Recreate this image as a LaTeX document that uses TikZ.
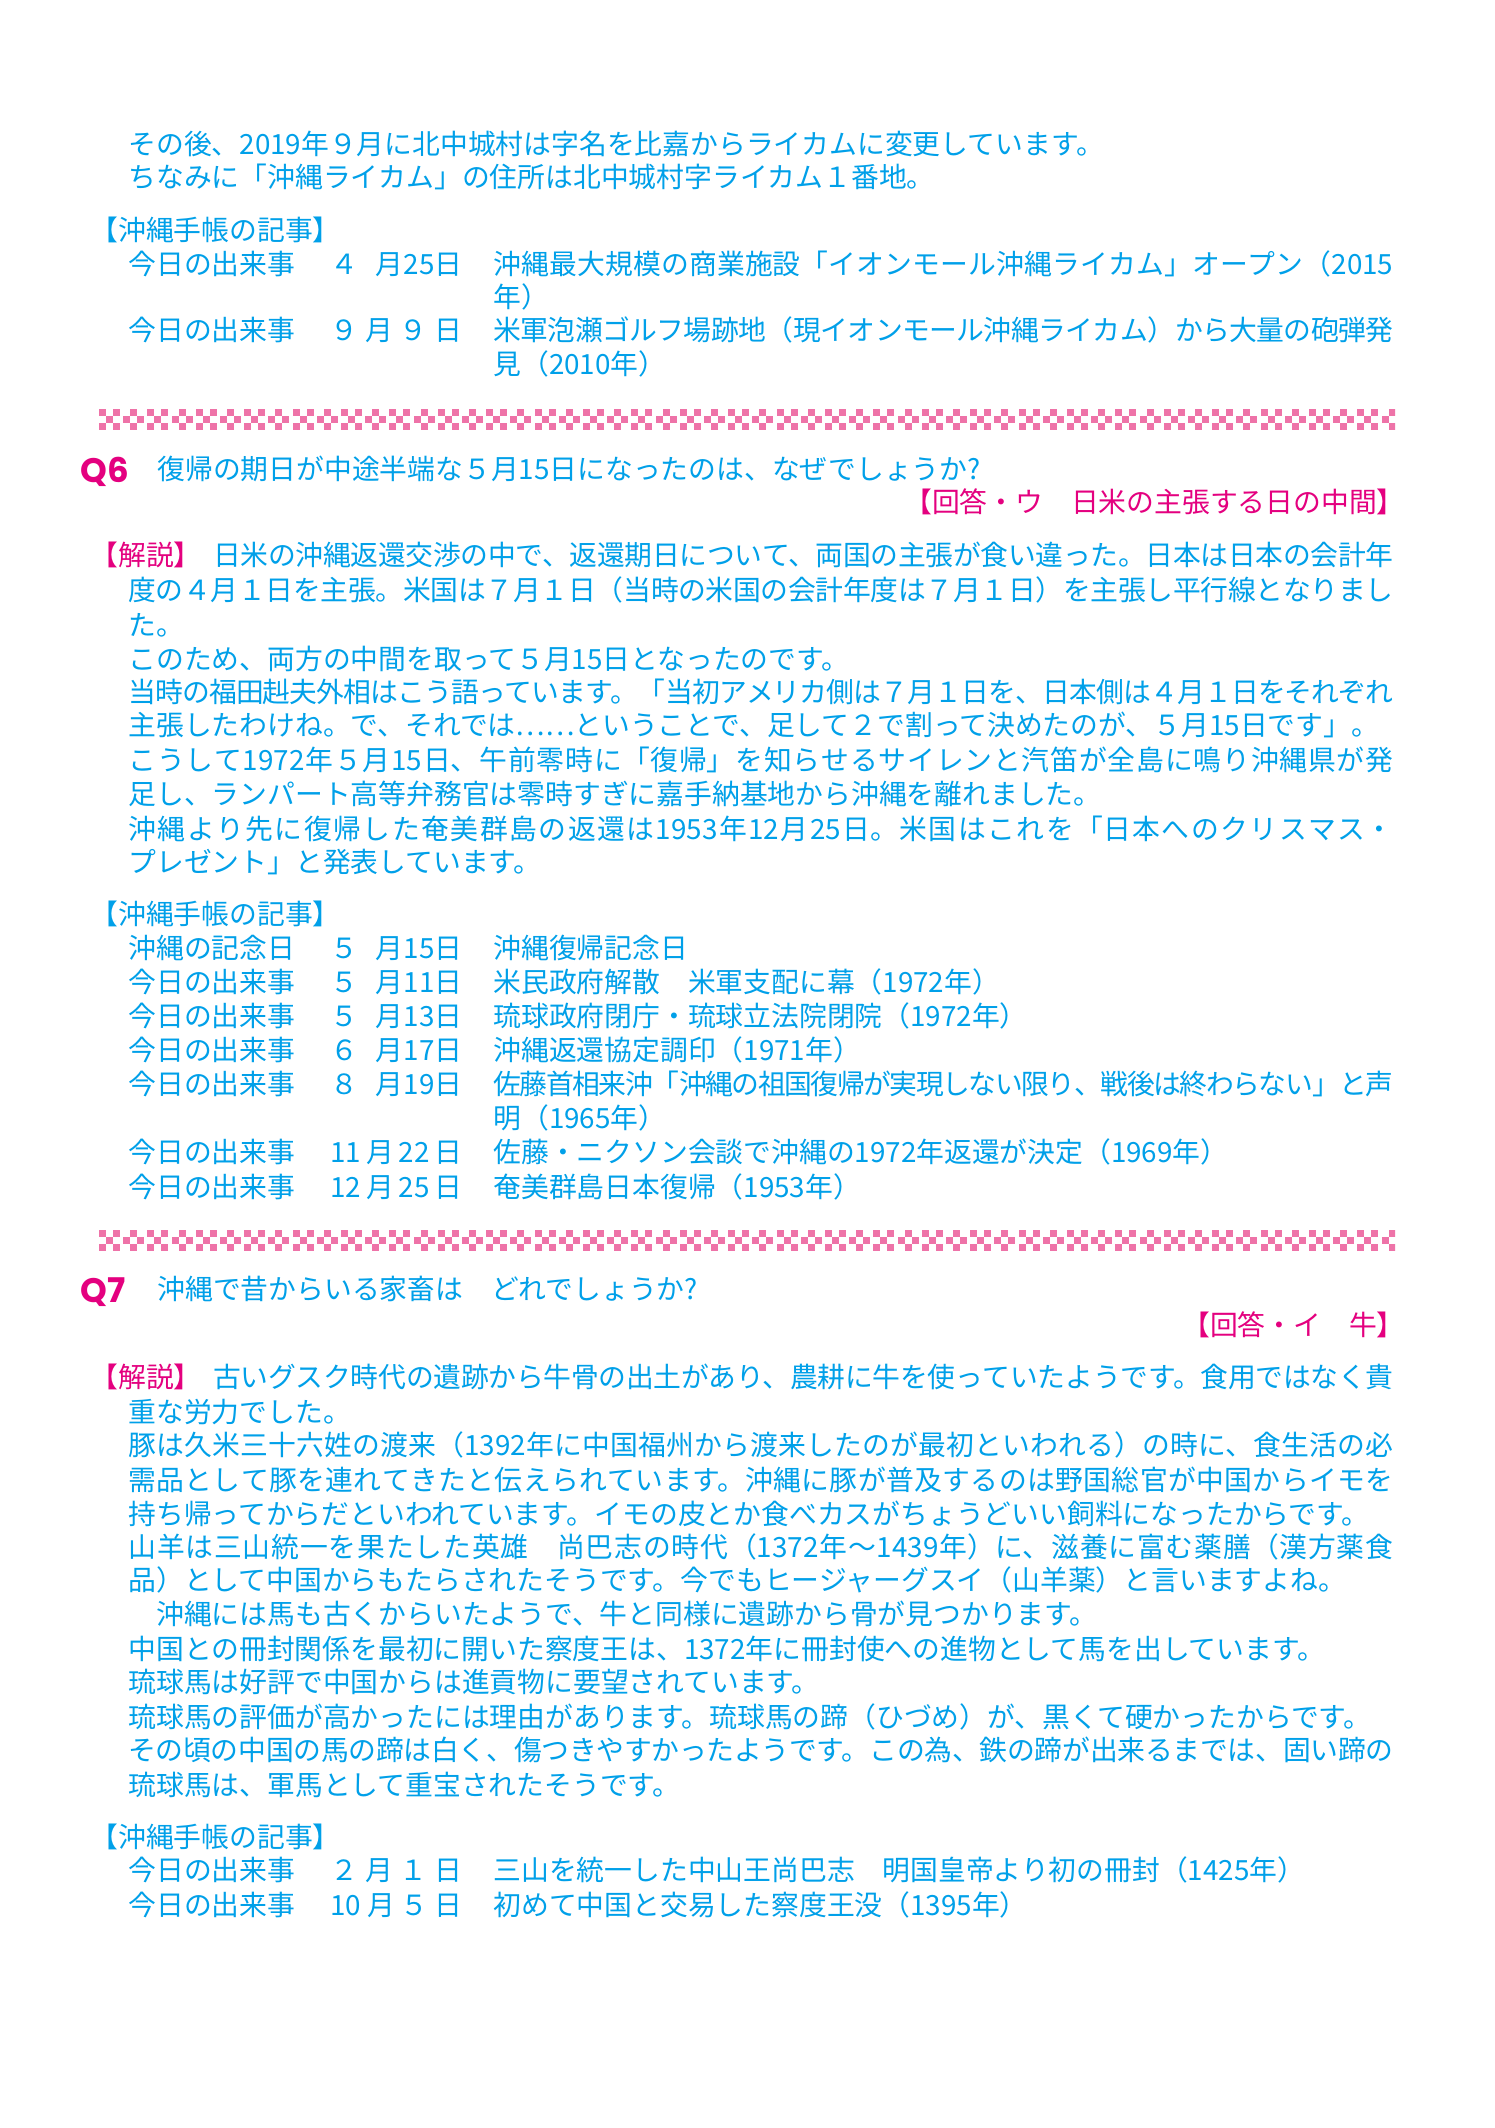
\documentclass[tikz,border=0pt]{standalone}
\usepackage{fontspec}
\setmainfont{Noto Sans CJK JP}
\newfontfamily\qfont{Poppins}
\XeTeXlinebreaklocale "ja"
\XeTeXlinebreakskip=0pt plus 2pt minus 1.2pt
\hbadness=10000
\definecolor{aoiro}{HTML}{00A0E9}
\definecolor{akane}{HTML}{E4007F}
\definecolor{momo}{HTML}{EE73A8}

\begin{document}
\begin{tikzpicture}
	[x=0.5pt, y=-0.5pt,
	txt/.style = {anchor=west, inner sep=0pt, text height=0.88em, text depth=0.12em, text=aoiro, font=\fontsize{13.9pt}{16pt}\selectfont},
	full/.style = {txt, text width=#1, align=justify, execute at begin node={\parfillskip=0pt\relax}, execute at end node={\parfillskip=0pt\relax}},
	aka/.style = {txt, text=akane},
	qno/.style = {anchor=west, inner sep=0pt, text=akane, font=\fontsize{17pt}{20pt}\qfont\bfseries},
	chk/.style = {fill=momo}]
	\fill[white] (0,0) rectangle (1494,2128);
	\useasboundingbox (0,0) rectangle (1494,2128);
	% ライカム
	\node[txt] (a1) at (128,147) {その後、2019年９月に北中城村は字名を比嘉からライカムに変更しています。};
	\node[txt] (a2) at (128,180) {ちなみに「沖縄ライカム」の住所は北中城村字ライカム１番地。};
	\node[txt] (a3) at (90,233) {【沖縄手帳の記事】};
	\node[txt] (a4) at (128,267) {今日の出来事};
	\node[txt] (a4d) at (330,267) {\makebox[66pt][s]{４\hfill 月25日}};
	\node[full=450pt] (a4t) at (493,267) {沖縄最大規模の商業施設「イオンモール沖縄ライカム」オープン（2015};
	\node[txt] (a5) at (493,300) {年）};
	\node[txt] (a6) at (128,333) {今日の出来事};
	\node[txt] (a6d) at (330,333) {\makebox[66pt][s]{９\hfill 月\hfill ９\hfill 日}};
	\node[full=450pt] (a6t) at (493,333) {米軍泡瀬ゴルフ場跡地（現イオンモール沖縄ライカム）から大量の砲弾発};
	\node[txt] (a7) at (493,367) {見（2010年）};
	% 市松の帯
	\begin{scope}
		\clip (95,400) rectangle (1395,1260);
		\foreach \sy in {409,1230}
			\foreach \i in {0,...,26} {
				\foreach \cx/\cy in {0/0,2/0,1/1,0/2,2/2}
					\fill[chk] ({99+48.4*\i+7*\cx},{\sy+7*\cy}) rectangle ++(7,7);
				\foreach \cx/\cy in {1/0,0/1,2/1,1/2}
					\fill[chk] ({123.2+48.4*\i+7*\cx},{\sy+7*\cy}) rectangle ++(7,7);
			}
	\end{scope}
	% Q6
	\node[qno] (q6) at (80,472) {Q6};
	\node[txt] (q6t) at (157,472) {復帰の期日が中途半端な５月15日になったのは、なぜでしょうか?};
	\node[aka, anchor=east] (q6a) at (1405,505) {【回答・ウ　日米の主張する日の中間】};
	\node[aka] (k6) at (90,558) {【解説】};
	\node[full=590pt] (k6a) at (213,558) {日米の沖縄返還交渉の中で、返還期日について、両国の主張が食い違った。日本は日本の会計年};
	\node[full=632.5pt] (k6b) at (128,593) {度の４月１日を主張。米国は７月１日（当時の米国の会計年度は７月１日）を主張し平行線となりまし};
	\node[txt] (k6c) at (128,628) {た。};
	\node[txt] (k6d) at (128,662) {このため、両方の中間を取って５月15日となったのです。};
	\node[full=632.5pt] (k6e) at (128,695) {当時の福田赳夫外相はこう語っています。「当初アメリカ側は７月１日を、日本側は４月１日をそれぞれ};
	\node[txt] (k6f) at (128,728) {主張したわけね。で、それでは……ということで、足して２で割って決めたのが、５月15日です」。};
	\node[full=632.5pt] (k6g) at (128,763) {こうして1972年５月15日、午前零時に「復帰」を知らせるサイレンと汽笛が全島に鳴り沖縄県が発};
	\node[txt] (k6h) at (128,797) {足し、ランパート高等弁務官は零時すぎに嘉手納基地から沖縄を離れました。};
	\node[full=632.5pt] (k6i) at (128,832) {沖縄より先に復帰した奄美群島の返還は1953年12月25日。米国はこれを「日本へのクリスマス・};
	\node[txt] (k6j) at (128,865) {プレゼント」と発表しています。};
	\node[txt] (b0) at (90,917) {【沖縄手帳の記事】};
	\node[txt] (b1) at (128,951) {沖縄の記念日};
	\node[txt] (b1d) at (330,951) {\makebox[66pt][s]{５\hfill 月15日}};
	\node[txt] (b1t) at (493,951) {沖縄復帰記念日};
	\node[txt] (b2) at (128,985) {今日の出来事};
	\node[txt] (b2d) at (330,985) {\makebox[66pt][s]{５\hfill 月11日}};
	\node[txt] (b2t) at (493,985) {米民政府解散　米軍支配に幕（1972年）};
	\node[txt] (b3) at (128,1019) {今日の出来事};
	\node[txt] (b3d) at (330,1019) {\makebox[66pt][s]{５\hfill 月13日}};
	\node[txt] (b3t) at (493,1019) {琉球政府閉庁・琉球立法院閉院（1972年）};
	\node[txt] (b4) at (128,1053) {今日の出来事};
	\node[txt] (b4d) at (330,1053) {\makebox[66pt][s]{６\hfill 月17日}};
	\node[txt] (b4t) at (493,1053) {沖縄返還協定調印（1971年）};
	\node[txt] (b5) at (128,1087) {今日の出来事};
	\node[txt] (b5d) at (330,1087) {\makebox[66pt][s]{８\hfill 月19日}};
	\node[full=450pt] (b5t) at (493,1087) {佐藤首相来沖「沖縄の祖国復帰が実現しない限り、戦後は終わらない」と声};
	\node[txt] (b6) at (493,1121) {明（1965年）};
	\node[txt] (b7) at (128,1155) {今日の出来事};
	\node[txt] (b7d) at (330,1155) {\makebox[66pt][s]{11\hfill 月\hfill 22\hfill 日}};
	\node[txt] (b7t) at (493,1155) {佐藤・ニクソン会談で沖縄の1972年返還が決定（1969年）};
	\node[txt] (b8) at (128,1190) {今日の出来事};
	\node[txt] (b8d) at (330,1190) {\makebox[66pt][s]{12\hfill 月\hfill 25\hfill 日}};
	\node[txt] (b8t) at (493,1190) {奄美群島日本復帰（1953年）};
	% Q7
	\node[qno] (q7) at (80,1292) {Q7};
	\node[txt] (q7t) at (157,1292) {沖縄で昔からいる家畜は　どれでしょうか?};
	\node[aka, anchor=east] (q7a) at (1405,1328) {【回答・イ　牛】};
	\node[aka] (k7) at (90,1380) {【解説】};
	\node[full=590pt] (k7a) at (213,1380) {古いグスク時代の遺跡から牛骨の出土があり、農耕に牛を使っていたようです。食用ではなく貴};
	\node[txt] (k7b) at (128,1415) {重な労力でした。};
	\node[full=632.5pt] (k7c) at (128,1448) {豚は久米三十六姓の渡来（1392年に中国福州から渡来したのが最初といわれる）の時に、食生活の必};
	\node[full=632.5pt] (k7d) at (128,1483) {需品として豚を連れてきたと伝えられています。沖縄に豚が普及するのは野国総官が中国からイモを};
	\node[txt] (k7e) at (128,1517) {持ち帰ってからだといわれています。イモの皮とか食べカスがちょうどいい飼料になったからです。};
	\node[full=632.5pt] (k7f) at (128,1550) {山羊は三山統一を果たした英雄　尚巴志の時代（1372年～1439年）に、滋養に富む薬膳（漢方薬食};
	\node[txt] (k7g) at (128,1583) {品）として中国からもたらされたそうです。今でもヒージャーグスイ（山羊薬）と言いますよね。};
	\node[txt] (k7h) at (128,1617) {　沖縄には馬も古くからいたようで、牛と同様に遺跡から骨が見つかります。};
	\node[txt] (k7i) at (128,1652) {中国との冊封関係を最初に開いた察度王は、1372年に冊封使への進物として馬を出しています。};
	\node[txt] (k7j) at (128,1685) {琉球馬は好評で中国からは進貢物に要望されています。};
	\node[txt] (k7k) at (128,1720) {琉球馬の評価が高かったには理由があります。琉球馬の蹄（ひづめ）が、黒くて硬かったからです。};
	\node[full=632.5pt] (k7l) at (128,1753) {その頃の中国の馬の蹄は白く、傷つきやすかったようです。この為、鉄の蹄が出来るまでは、固い蹄の};
	\node[txt] (k7m) at (128,1788) {琉球馬は、軍馬として重宝されたそうです。};
	\node[txt] (c0) at (90,1840) {【沖縄手帳の記事】};
	\node[txt] (c1) at (128,1873) {今日の出来事};
	\node[txt] (c1d) at (330,1873) {\makebox[66pt][s]{２\hfill 月\hfill １\hfill 日}};
	\node[txt] (c1t) at (493,1873) {三山を統一した中山王尚巴志　明国皇帝より初の冊封（1425年）};
	\node[txt] (c2) at (128,1908) {今日の出来事};
	\node[txt] (c2d) at (330,1908) {\makebox[66pt][s]{10\hfill 月\hfill ５\hfill 日}};
	\node[txt] (c2t) at (493,1908) {初めて中国と交易した察度王没（1395年）};
\end{tikzpicture}
\end{document}
